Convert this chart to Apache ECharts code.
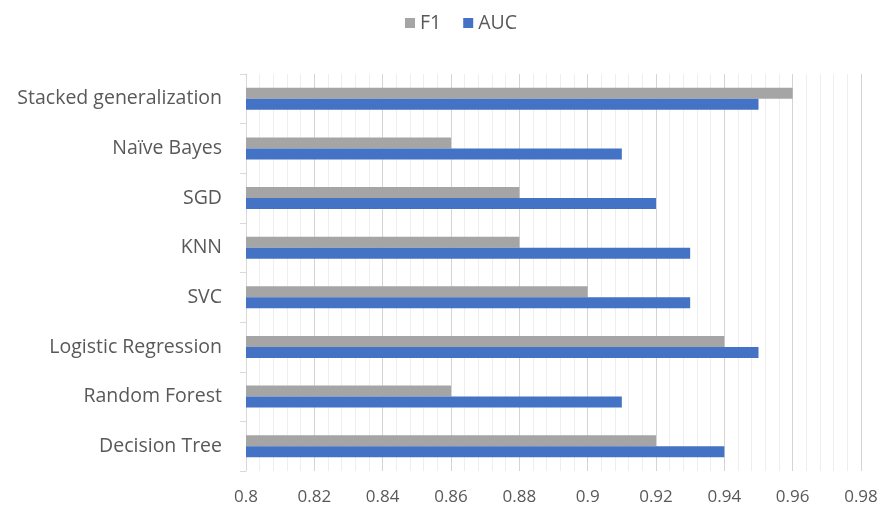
<!DOCTYPE html>
<html>
<head>
<meta charset="utf-8">
<script src="https://cdn.jsdelivr.net/npm/echarts@6/dist/echarts.min.js"></script>
<style>
  html, body { margin: 0; padding: 0; background: #fff; }
  #chart { width: 884px; height: 516px; }
</style>
</head>
<body>
<div id="chart"></div>
<script>
// Models, listed bottom to top on the category axis
const models = ['Decision Tree', 'Random Forest', 'Logistic Regression', 'SVC', 'KNN', 'SGD', 'Na\u00efve Bayes', 'Stacked generalization'];
const f1Scores = [0.92, 0.86, 0.94, 0.90, 0.88, 0.88, 0.86, 0.96];
const aucScores = [0.94, 0.91, 0.95, 0.93, 0.93, 0.92, 0.91, 0.95];
const xTicks = { min: 0.8, max: 0.98, step: 0.02 };

const font = 'Open Sans, Noto Sans, sans-serif';
const textColor = '#595959';

const chart = echarts.init(document.getElementById('chart'), null, { renderer: 'canvas' });
chart.setOption({
  animation: false,
  backgroundColor: '#fff',
  legend: {
    data: ['F1', 'AUC'],
    top: 8,
    left: 400,
    itemWidth: 10,
    itemHeight: 10,
    itemGap: 22,
    icon: 'rect',
    textStyle: { color: textColor, fontSize: 19.5, fontFamily: font }
  },
  grid: { left: 246, right: 23, top: 74, bottom: 45, containLabel: false },
  xAxis: {
    type: 'value',
    min: xTicks.min,
    max: xTicks.max,
    interval: xTicks.step,
    axisLine: { show: false },
    axisTick: { show: false },
    axisLabel: {
      color: textColor, fontSize: 17, fontFamily: font, margin: 18,
      formatter: v => String(parseFloat(v.toFixed(2)))
    },
    splitLine: { show: true, lineStyle: { color: '#d4d4d4', width: 1 } },
    minorTick: { show: false, splitNumber: 5 },
    minorSplitLine: { show: true, lineStyle: { color: '#eeeeee', width: 1 } }
  },
  yAxis: {
    type: 'category',
    data: models,
    axisLine: { show: true, lineStyle: { color: '#d9d9d9' } },
    axisTick: { show: true, length: 6, lineStyle: { color: '#d9d9d9' } },
    axisLabel: { color: textColor, fontSize: 19.5, fontFamily: font, margin: 24 },
    splitLine: { show: false }
  },
  series: [
    {
      name: 'F1',
      type: 'bar',
      data: f1Scores,
      itemStyle: { color: '#A5A5A5' },
      barWidth: 11,
      barGap: '0%'
    },
    {
      name: 'AUC',
      type: 'bar',
      data: aucScores,
      itemStyle: { color: '#4472C4' },
      barWidth: 11,
      barGap: '0%'
    }
  ]
});
</script>
</body>
</html>
